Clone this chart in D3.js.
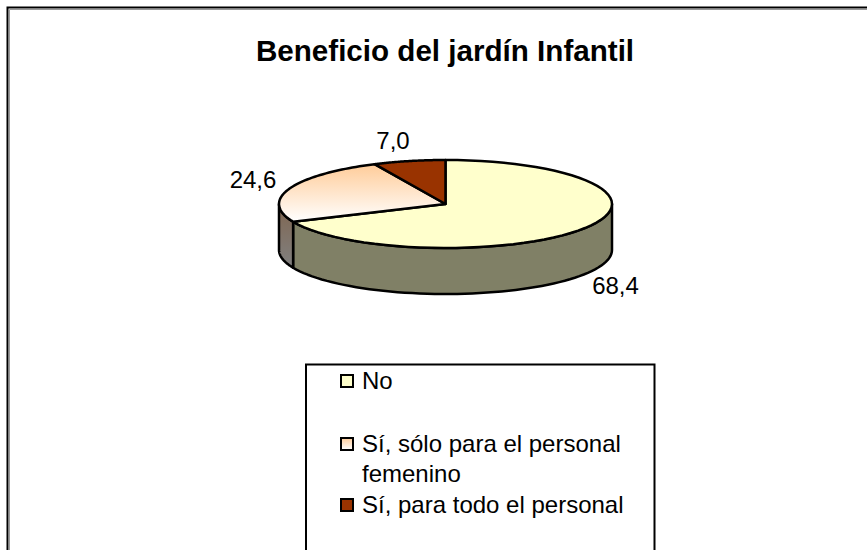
<!DOCTYPE html>
<html><head><meta charset="utf-8">
<script src="https://cdnjs.cloudflare.com/ajax/libs/d3/7.8.5/d3.min.js"></script>
<style>html,body{margin:0;padding:0;background:#fff}svg{display:block}text{font-family:"Liberation Sans",Arial,sans-serif;fill:#000}</style>
</head><body><div id="c"></div>
<script>
const titleText = "Beneficio del jardín Infantil";
const categories = ["No", "Sí, sólo para el personal femenino", "Sí, para todo el personal"];
const values = [68.4, 24.6, 7.0];
const valueLabels = ["68,4", "24,6", "7,0"];
const legendLines = [["No"], ["Sí, sólo para el personal", "femenino"], ["Sí, para todo el personal"]];

const W = 867, H = 550;
const svg = d3.select("#c").append("svg").attr("width", W).attr("height", H);
const defs = svg.append("defs");
const grad = (id, a, b) => {
  const g = defs.append("linearGradient").attr("id", id).attr("x1", 0).attr("y1", 0).attr("x2", 0).attr("y2", 1);
  g.append("stop").attr("offset", 0).attr("stop-color", a);
  g.append("stop").attr("offset", 1).attr("stop-color", b);
};
grad("peachTop", "#FFCC99", "#FFFFFF");
grad("peachSide", "#806650", "#808080");

// frame (open on the right and bottom)
svg.append("path").attr("d", `M9.5,${H}V9.5H${W}`).attr("fill", "none").attr("stroke", "#999").attr("stroke-width", 1);
svg.append("path").attr("d", `M7.5,${H}V7.5H${W}`).attr("fill", "none").attr("stroke", "#000").attr("stroke-width", 2);

svg.append("text").attr("x", 445).attr("y", 61).attr("text-anchor", "middle")
  .attr("font-size", 29.6).attr("font-weight", "bold").text(titleText);

// pie
const cx = 445.5, cy = 204, rx = 166.5, ry = 44, depth = 46;
const pie = d3.pie().sort(null).value(d => d)(values);
const tops = ["#FFFFCC", "url(#peachTop)", "#993300"];
const sides = ["#808066", "url(#peachSide)", "#4D1A00"];
const px = a => cx + rx * Math.sin(a), py = a => cy - ry * Math.cos(a);
const arcPts = (a0, a1, dy) => d3.range(0, 61).map(i => {
  const a = a0 + (a1 - a0) * i / 60;
  return [px(a), py(a) + dy];
});
const line = d3.line();
const g = svg.append("g").attr("stroke", "#000").attr("stroke-width", 2.5).attr("stroke-linejoin", "round");

// side walls: only the part of each slice's rim on the front half
pie.forEach((s, i) => {
  const a0 = Math.max(s.startAngle, Math.PI / 2), a1 = Math.min(s.endAngle, 3 * Math.PI / 2);
  if (a1 <= a0) return;
  const pts = arcPts(a0, a1, 0).concat(arcPts(a1, a0, depth));
  g.append("path").attr("d", line(pts) + "Z").attr("fill", sides[i]);
});
// top faces
pie.forEach((s, i) => {
  const pts = [[cx, cy]].concat(arcPts(s.startAngle, s.endAngle, 0));
  g.append("path").attr("d", line(pts) + "Z").attr("fill", tops[i]);
});

// value labels
const labelPos = [[615.5, 294], [253, 188], [393, 149]];
valueLabels.forEach((t, i) => {
  svg.append("text").attr("x", labelPos[i][0]).attr("y", labelPos[i][1]).attr("text-anchor", "middle")
    .attr("font-size", 24).text(t);
});

// legend (its box runs off the bottom)
svg.append("path").attr("d", `M306,${H}V364.5H654.5V${H}`).attr("fill", "#fff").attr("stroke", "#000").attr("stroke-width", 2);
const swatches = ["#FFFFCC", "url(#peachTop)", "#993300"];
const legendY = [389, 452, 513];
legendLines.forEach((lines, i) => {
  svg.append("rect").attr("x", 341).attr("y", legendY[i] - 14).attr("width", 12).attr("height", 12)
    .attr("fill", swatches[i]).attr("stroke", "#000").attr("stroke-width", 2);
  lines.forEach((t, j) => {
    svg.append("text").attr("x", 362).attr("y", legendY[i] + j * 30).attr("font-size", 24).text(t);
  });
});
</script></body></html>
